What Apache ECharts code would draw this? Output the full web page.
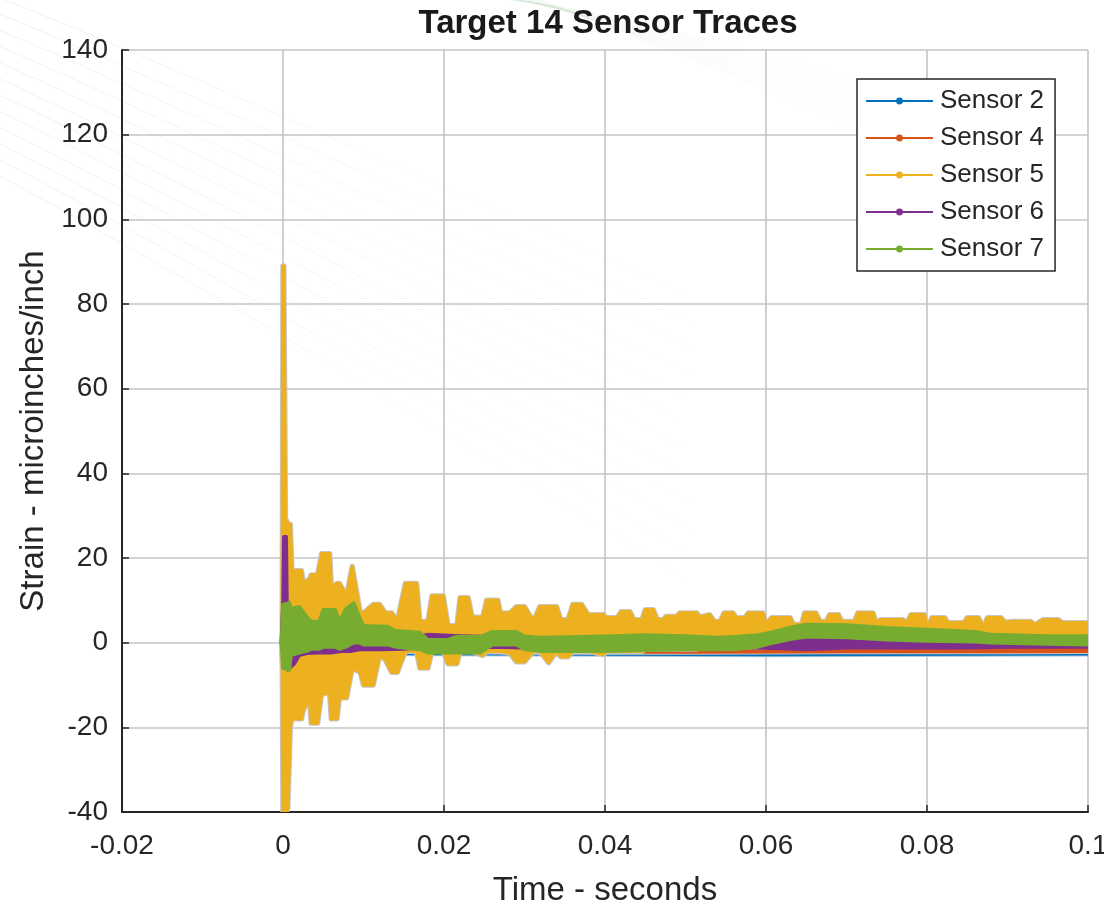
<!DOCTYPE html>
<html>
<head>
<meta charset="utf-8">
<script src="https://cdn.jsdelivr.net/npm/echarts@6/dist/echarts.min.js"></script>
<style>html,body{margin:0;padding:0;background:#fff;}#chart{width:1104px;height:909px;}</style>
</head>
<body>
<div id="chart"></div>
<script>
// Tick labels / axis ranges
const xTicks = [-0.02, 0, 0.02, 0.04, 0.06, 0.08, 0.1];
const yTicks = [-40, -20, 0, 20, 40, 60, 80, 100, 120, 140];
const seriesNames = ['Sensor 2', 'Sensor 4', 'Sensor 5', 'Sensor 6', 'Sensor 7'];

// Each sensor trace as an envelope of its fast oscillation: [time (s), low, high] (microinches/inch)
const sensor2 = [
  [-0.0002, 0, 0], [0.0000, -7, 2], [0.0005, -7, 1], [0.0010, -4, 1], [0.0030, -2.5, 1],
  [0.0100, -2.5, 1.2], [0.0300, -2.6, 1.2], [0.0600, -2.8, 0.5], [0.1000, -2.6, 0.5]
];
const sensor4 = [
  [-0.0002, 0, 0], [0.0000, -3, 3], [0.0010, -3, 2], [0.0030, -2, 0.5], [0.0100, -2, 0],
  [0.0200, -2, -0.5], [0.0300, -2.2, -0.5], [0.0500, -2.2, -0.6], [0.0700, -2.1, -0.8],
  [0.0900, -2.1, -0.8], [0.1000, -2, -0.8]
];
const sensor5 = [
  [-0.0001, 0, 0], [0.0000, -40, 89], [0.0001, -40, 89], [0.0003, -40, 29], [0.0004, -40, 29],
  [0.0006, -39, 28], [0.0009, -20, 28], [0.0011, -18, 17], [0.0023, -18, 17], [0.0025, -16, 14],
  [0.0033, -13, 15], [0.0035, -19, 16], [0.0043, -19, 16], [0.0048, -12, 21], [0.0058, -12, 21],
  [0.0060, -18, 13], [0.0067, -18, 14], [0.0070, -13, 14], [0.0079, -13, 11], [0.0086, -6, 18],
  [0.0096, -7, 7], [0.0100, -10, 7], [0.0112, -10, 9], [0.0120, -3, 9], [0.0127, -4, 7],
  [0.0135, -7, 7], [0.0142, -7, 5], [0.0152, -2, 14], [0.0166, -2, 14], [0.0170, -6, 5],
  [0.0180, -6, 5], [0.0185, -2, 11], [0.0199, -2, 11], [0.0205, -5, 4], [0.0216, -5, 4],
  [0.0220, -2, 10.6], [0.0230, -2, 10.6], [0.0235, -2, 6], [0.0248, -3, 6], [0.0253, -2, 10],
  [0.0267, -2, 10], [0.0270, -2, 7], [0.0282, -2.5, 7], [0.0290, -4.5, 8.5], [0.0300, -4.5, 8.5],
  [0.0311, -2, 5], [0.0319, -2, 8.5], [0.0330, -4.7, 8.5], [0.0340, -2, 8.5], [0.0345, -3.3, 5.4],
  [0.0354, -3.3, 5.4], [0.0360, -2, 9], [0.0371, -2, 9], [0.0379, -2, 6.6], [0.0398, -2.8, 6.6],
  [0.0402, -2, 5.9], [0.0415, -2, 5.9], [0.0420, -2, 7.3], [0.0431, -2, 7.3], [0.0436, -2, 5.4],
  [0.0446, -2, 5.4], [0.0450, -1.5, 7.8], [0.0460, -1.5, 7.8], [0.0465, -1.5, 5.4], [0.0472, -1.5, 5.4],
  [0.0476, -1.5, 6.2], [0.0489, -1.5, 6.2], [0.0493, -1.5, 7], [0.0514, -1.5, 7], [0.0518, -1, 6],
  [0.0530, -1, 6.6], [0.0536, -1, 5], [0.0543, -1, 5], [0.0548, -1, 7], [0.0559, -1, 7],
  [0.0563, -1, 5.9], [0.0574, -1, 5.9], [0.0578, -1, 7], [0.0596, -1, 7], [0.0600, -1, 4.3],
  [0.0607, -0.5, 5.9], [0.0630, -0.5, 5.9], [0.0634, -0.5, 4.3], [0.0644, 0, 4.3], [0.0648, 0, 7],
  [0.0662, 0, 7], [0.0667, 0, 5], [0.0675, 0, 5], [0.0679, 0, 6.6], [0.0690, 0, 6.6],
  [0.0694, 0, 5], [0.0710, 0, 5], [0.0714, 0, 7], [0.0733, 0, 7], [0.0737, 0, 4.6],
  [0.0742, 0, 5.4], [0.0770, 0, 5.4], [0.0775, 0, 4.6], [0.0780, 0, 6.6], [0.0797, 0, 6.6],
  [0.0800, 0, 3.1], [0.0806, 0, 5.9], [0.0822, 0, 5.9], [0.0826, 0, 4.7], [0.0846, 0, 4.7],
  [0.0850, 0, 5.9], [0.0864, 0, 5.9], [0.0870, 0, 3.5], [0.0875, 0, 5.9], [0.0892, 0, 5.9],
  [0.0897, 0, 4.8], [0.0907, 0, 5], [0.0929, 0, 5], [0.0934, 0, 4.2], [0.0944, 0, 5.4],
  [0.0963, 0, 5.4], [0.0968, 0, 4.7], [0.1000, 0, 4.7]
];
const sensor6 = [
  [-0.0002, 0, 0], [0.0000, -2, 10], [0.0001, -2, 25], [0.0004, 0, 25], [0.0005, -2, 9],
  [0.0006, -6.4, 3], [0.0014, -5, 2], [0.0020, -3, 1], [0.0030, -2.5, 0.5], [0.0045, -2.4, 1],
  [0.0060, -2.4, 0.7], [0.0075, -2, 2.6], [0.0085, -2, 3.1], [0.0095, -1.6, 1], [0.0120, -1.6, 0.5],
  [0.0150, -1.5, 1.2], [0.0180, -1, 1.9], [0.0220, -1.2, 1.6], [0.0260, -1, 1.4], [0.0300, -1.2, 1],
  [0.0400, -1, 1.2], [0.0500, -1, 1], [0.0580, -1.2, 1], [0.0620, -1.4, 1.4], [0.0650, -1.6, 1.4],
  [0.0700, -1.2, 1.4], [0.0800, -1.2, 0.8], [0.0850, -1.2, 0.6], [0.0900, -1, 0.2], [0.1000, -1, 0]
];
const sensor7 = [
  [-0.0002, 0, 0], [0.0000, -6, 9], [0.0008, -6.4, 9.4], [0.0010, -3, 8], [0.0020, -2.4, 8.5],
  [0.0030, -2, 6], [0.0035, -1.5, 5], [0.0045, -1.5, 5], [0.0050, -1, 7.8], [0.0065, -1, 7.8],
  [0.0070, -1.5, 5], [0.0078, -1, 8], [0.0088, 0, 9.4], [0.0095, 0, 6], [0.0100, -0.5, 4],
  [0.0130, -0.5, 3.8], [0.0140, -1, 2.8], [0.0170, -1.6, 2.4], [0.0180, -2.4, 0.7], [0.0205, -2.4, 0.7],
  [0.0215, -2.4, 1.4], [0.0245, -2.4, 1.4], [0.0260, -0.5, 2.6], [0.0290, -0.5, 2.6], [0.0300, -1.6, 1.5],
  [0.0320, -2, 1.2], [0.0400, -2, 1.5], [0.0450, -1.8, 1.8], [0.0500, -1.6, 1.6], [0.0540, -1.6, 1.2],
  [0.0560, -1.6, 1.4], [0.0590, -1, 1.8], [0.0610, 0, 2.6], [0.0630, 0.8, 3.6], [0.0650, 1.4, 4.3],
  [0.0700, 1.2, 4.2], [0.0750, 0.7, 3.5], [0.0800, 0.4, 3.1], [0.0860, 0.2, 2.6], [0.0880, 0, 1.9],
  [0.0950, -0.3, 1.6], [0.1000, -0.5, 1.6]
];

const colors = ['#0072BD', '#D95319', '#EDB120', '#7E2F8E', '#77AC30'];
const traces = [sensor2, sensor4, sensor5, sensor6, sensor7];
const halos = ['#a9c6dc', '#d0c4bf', '#c6c6c6', null, null];

function bandRenderer(fill, halo) {
  return function (params, api) {
    if (params.dataIndexInside !== 0) return null;
    const n = params.dataInsideLength;
    const top = [], bot = [];
    for (let i = 0; i < n; i++) {
      const t = api.value(0, i);
      top.push(api.coord([t, api.value(2, i)]));
      bot.push(api.coord([t, api.value(1, i)]));
    }
    const pts = top.concat(bot.reverse());
    const children = [];
    if (halo) {
      children.push({ type: 'polygon', shape: { points: pts },
        style: { fill: halo, stroke: halo, lineWidth: 5.5, lineJoin: 'round' } });
    }
    children.push({ type: 'polygon', shape: { points: pts },
      style: { fill: fill, stroke: fill, lineWidth: 3.5, lineJoin: 'round' } });
    return { type: 'group', children: children };
  };
}

// faint decorative watermark curves (background), fading out
function fade(rgb, a) {
  return { type: 'linear', x: 0, y: 0, x2: 1, y2: 1, global: false,
    colorStops: [{ offset: 0, color: 'rgba(' + rgb + ',' + a + ')' }, { offset: 1, color: 'rgba(' + rgb + ',0)' }] };
}
const waveGraphics = [];
for (let k = 0; k < 12; k++) {
  waveGraphics.push({
    type: 'bezierCurve', silent: true, z: -10,
    shape: { x1: -20, y1: -10 + k * 16, cpx1: 160, cpy1: 60 + k * 18, x2: 700, y2: 300 + k * 26 },
    style: { stroke: fade('140,175,140', 0.16), lineWidth: 1, fill: null }
  });
}
for (let k = 0; k < 10; k++) {
  waveGraphics.push({
    type: 'bezierCurve', silent: true, z: -10,
    shape: { x1: 470 + k * 6, y1: -5, cpx1: 650, cpy1: 10 + k * 3, x2: 1050, y2: 140 + k * 8 },
    style: { stroke: fade('120,180,120', 0.07), lineWidth: 1.5, fill: null }
  });
}

const legendIcon = 'path://M0,4.1 H67 V5.9 H0 Z M30.1,5 A3.4,3.4 0 1 1 36.9,5 A3.4,3.4 0 1 1 30.1,5 Z';
const FONT = '"Liberation Sans", Arial, Helvetica, sans-serif';
const TXT = '#262626';

const chart = echarts.init(document.getElementById('chart'), null, { renderer: 'canvas' });
chart.setOption({
  animation: false,
  backgroundColor: '#ffffff',
  graphic: waveGraphics,
  title: {
    text: 'Target 14 Sensor Traces',
    left: 603, top: 2, textAlign: 'center',
    textStyle: { fontFamily: FONT, fontSize: 33, fontWeight: 'bold', color: '#1a1a1a' }
  },
  grid: { left: 122, right: 16, top: 50, bottom: 97, containLabel: false, outerBoundsMode: 'none' },
  legend: {
    orient: 'vertical', left: 857, top: 79,
    padding: [9, 11, 9, 9], itemGap: 11, itemWidth: 67, itemHeight: 6.8,
    backgroundColor: '#ffffff', borderColor: TXT, borderWidth: 1.5,
    textStyle: { fontFamily: FONT, fontSize: 26, color: TXT, padding: [0, 0, 0, 2] },
    data: seriesNames.map(n => ({ name: n, icon: legendIcon }))
  },
  xAxis: {
    type: 'value', min: xTicks[0], max: xTicks[xTicks.length - 1], interval: 0.02,
    name: 'Time - seconds', nameLocation: 'middle', nameGap: 62,
    nameTextStyle: { fontFamily: FONT, fontSize: 33, color: TXT },
    axisLine: { show: true, onZero: false, lineStyle: { color: TXT, width: 2 } },
    axisTick: { show: true, inside: true, length: 7, lineStyle: { color: TXT, width: 1.5 } },
    axisLabel: { fontFamily: FONT, fontSize: 28, color: TXT, margin: 20,
      formatter: v => String(+v.toFixed(2)) },
    splitLine: { show: true, lineStyle: { color: '#c4c4c4', width: 1.6 } }
  },
  yAxis: {
    type: 'value', min: yTicks[0], max: yTicks[yTicks.length - 1], interval: 20,
    name: 'Strain - microinches/inch', nameLocation: 'middle', nameGap: 72,
    nameTextStyle: { fontFamily: FONT, fontSize: 33, color: TXT },
    axisLine: { show: true, onZero: false, lineStyle: { color: TXT, width: 2 } },
    axisTick: { show: true, inside: true, length: 7, lineStyle: { color: TXT, width: 1.5 } },
    axisLabel: { fontFamily: FONT, fontSize: 28, color: TXT, margin: 14 },
    splitLine: { show: true, lineStyle: { color: '#c4c4c4', width: 1.6 } }
  },
  series: traces.map((d, i) => ({
    type: 'custom',
    name: seriesNames[i],
    coordinateSystem: 'cartesian2d',
    clip: true,
    itemStyle: { color: colors[i] },
    encode: { x: 0, y: [1, 2] },
    renderItem: bandRenderer(colors[i], halos[i]),
    data: d,
    z: 2 + i
  }))
});
</script>
</body>
</html>
